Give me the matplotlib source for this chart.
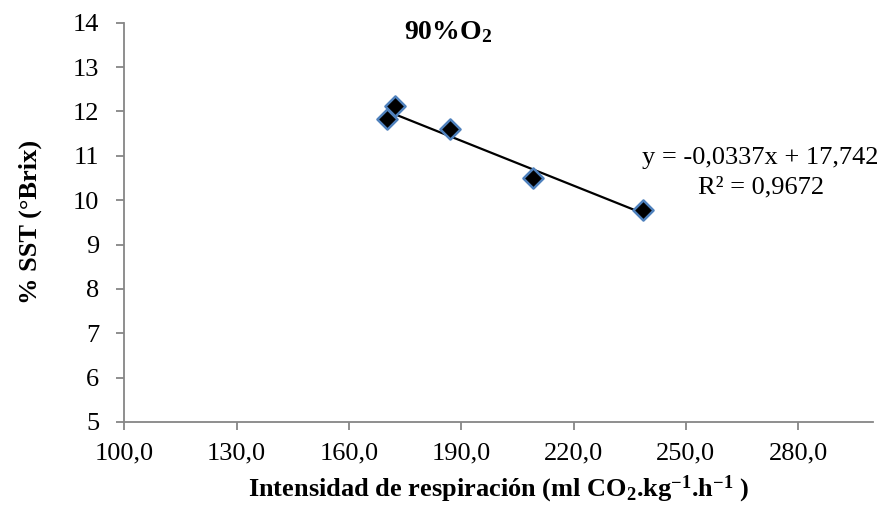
import numpy as np
import matplotlib
matplotlib.use("Agg")
import matplotlib.pyplot as plt

plt.rcParams['font.family'] = ['Liberation Serif', 'DejaVu Serif']
plt.rcParams['mathtext.fontset'] = 'custom'
plt.rcParams['mathtext.rm'] = 'Liberation Serif'
plt.rcParams['mathtext.it'] = 'Liberation Serif:italic'
plt.rcParams['mathtext.bf'] = 'Liberation Serif:bold'

# data
resp = [170.1, 172.3, 186.9, 209.1, 238.6]
sst = [11.84, 12.12, 11.61, 10.51, 9.77]

# trendline as printed on the chart
slope = -0.0337
intercept = 17.742
r2 = 0.9672

x_ticks = [100, 130, 160, 190, 220, 250, 280]
y_ticks = list(range(5, 15))

fs = 19

fig = plt.figure(figsize=(8.83, 5.05), dpi=100)
ax = fig.add_axes([124.3 / 883, 1 - 422 / 505, (873 - 124.3) / 883, (422 - 22.7) / 505])

xs = np.array([min(resp), max(resp)])
ax.plot(xs, slope * xs + intercept, color='black', lw=1.6, zorder=2)
ax.scatter(resp, sst, marker='D', s=105, facecolor='black',
           edgecolor='#4f81bd', linewidth=1.8, zorder=3)

ax.set_xlim(100, 300)
ax.set_ylim(5, 14)
ax.set_xticks(x_ticks)
ax.set_xticklabels([f"{v:.1f}".replace('.', ',') for v in x_ticks])
ax.set_yticks(y_ticks)

for s in ['top', 'right']:
    ax.spines[s].set_visible(False)
for s in ['left', 'bottom']:
    ax.spines[s].set_color('#868686')
    ax.spines[s].set_linewidth(1.3)
ax.tick_params(axis='both', colors='#868686', labelcolor='black',
               labelsize=fs, length=6, width=1.3)
ax.tick_params(axis='x', pad=9)
ax.tick_params(axis='y', pad=12)

ax.set_xlabel(r"Intensidad de respiración (ml CO$_\mathbf{2}$.kg$^\mathbf{-1}$.h$^\mathbf{-1}$ )",
              fontsize=fs, fontweight='bold', labelpad=6)
ax.set_ylabel("% SST (°Brix)", fontsize=fs, fontweight='bold', labelpad=22)

ax.text(186.5, 13.78, r"90%O$_\mathbf{2}$", fontsize=20,
        fontweight='bold', ha='center', va='center')

ax.text(270.0, 10.95,
        f"y = {slope:.4f}x + {intercept:.3f}".replace('.', ','),
        fontsize=fs, ha='center', va='center')
ax.text(270.0, 10.29, f"R² = {r2:.4f}".replace('.', ','),
        fontsize=fs, ha='center', va='center')

fig.savefig("out.png", dpi=100)
